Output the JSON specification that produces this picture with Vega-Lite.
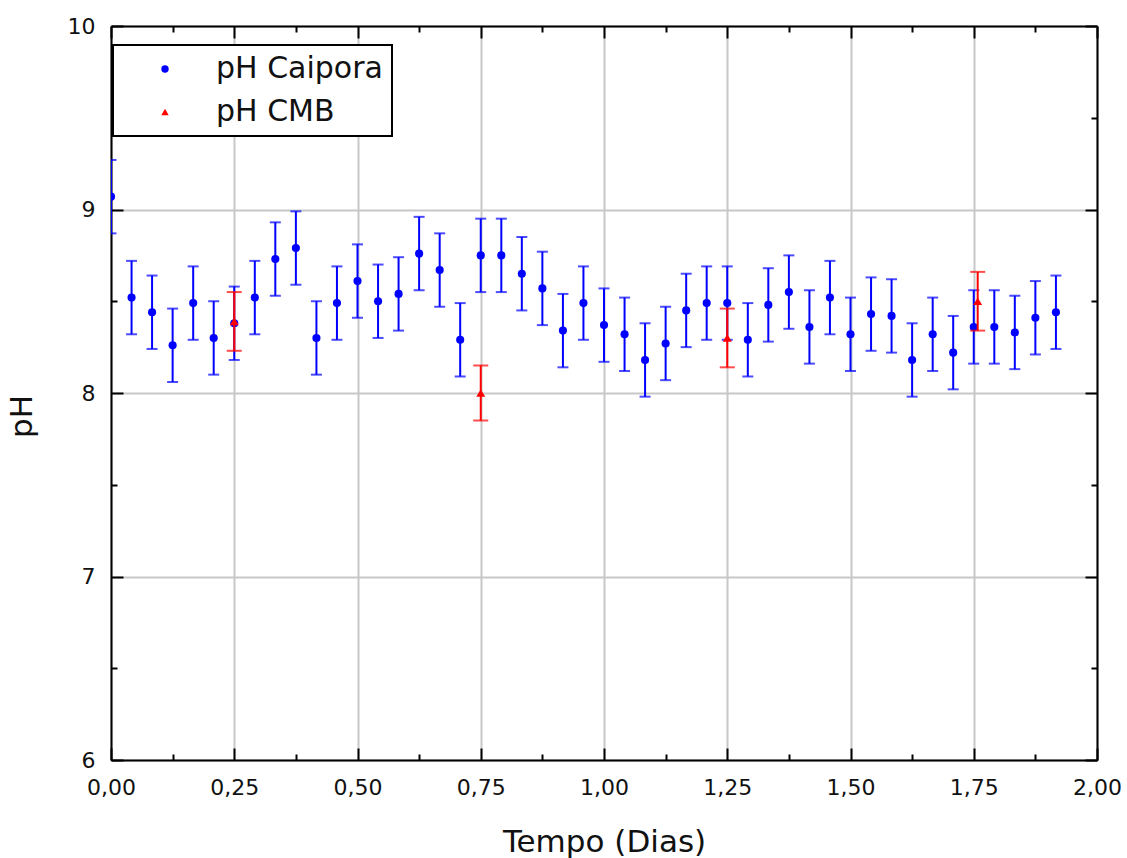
{
  "$schema": "https://vega.github.io/schema/vega-lite/v6.json",
  "width": 986,
  "height": 734,
  "autosize": {"type": "none"},
  "padding": {"left": 111, "top": 26, "right": 30, "bottom": 98},
  "background": "white",
  "config": {
    "view": {"stroke": null},
    "font": "DejaVu Sans",
    "legend": {
      "orient": "none",
      "legendX": 2,
      "legendY": 19,
      "title": null,
      "strokeColor": "black",
      "strokeWidth": 2,
      "fillColor": "white",
      "padding": 9,
      "rowPadding": 13,
      "symbolOffset": 28,
      "labelOffset": 36,
      "labelFont": "DejaVu Sans",
      "labelFontSize": 30,
      "labelColor": "#111111",
      "labelLimit": 500,
      "symbolSize": 55,
      "symbolStrokeWidth": 0
    }
  },
  "datasets": {
    "caipora": [
      {"t": 0, "ph": 9.07, "err": 0.2, "serie": "pH Caipora"},
      {"t": 0.0417, "ph": 8.52, "err": 0.2, "serie": "pH Caipora"},
      {"t": 0.0833, "ph": 8.44, "err": 0.2, "serie": "pH Caipora"},
      {"t": 0.125, "ph": 8.26, "err": 0.2, "serie": "pH Caipora"},
      {"t": 0.1667, "ph": 8.49, "err": 0.2, "serie": "pH Caipora"},
      {"t": 0.2083, "ph": 8.30, "err": 0.2, "serie": "pH Caipora"},
      {"t": 0.25, "ph": 8.38, "err": 0.2, "serie": "pH Caipora"},
      {"t": 0.2917, "ph": 8.52, "err": 0.2, "serie": "pH Caipora"},
      {"t": 0.3333, "ph": 8.73, "err": 0.2, "serie": "pH Caipora"},
      {"t": 0.375, "ph": 8.79, "err": 0.2, "serie": "pH Caipora"},
      {"t": 0.4167, "ph": 8.30, "err": 0.2, "serie": "pH Caipora"},
      {"t": 0.4583, "ph": 8.49, "err": 0.2, "serie": "pH Caipora"},
      {"t": 0.5, "ph": 8.61, "err": 0.2, "serie": "pH Caipora"},
      {"t": 0.5417, "ph": 8.50, "err": 0.2, "serie": "pH Caipora"},
      {"t": 0.5833, "ph": 8.54, "err": 0.2, "serie": "pH Caipora"},
      {"t": 0.625, "ph": 8.76, "err": 0.2, "serie": "pH Caipora"},
      {"t": 0.6667, "ph": 8.67, "err": 0.2, "serie": "pH Caipora"},
      {"t": 0.7083, "ph": 8.29, "err": 0.2, "serie": "pH Caipora"},
      {"t": 0.75, "ph": 8.75, "err": 0.2, "serie": "pH Caipora"},
      {"t": 0.7917, "ph": 8.75, "err": 0.2, "serie": "pH Caipora"},
      {"t": 0.8333, "ph": 8.65, "err": 0.2, "serie": "pH Caipora"},
      {"t": 0.875, "ph": 8.57, "err": 0.2, "serie": "pH Caipora"},
      {"t": 0.9167, "ph": 8.34, "err": 0.2, "serie": "pH Caipora"},
      {"t": 0.9583, "ph": 8.49, "err": 0.2, "serie": "pH Caipora"},
      {"t": 1.0, "ph": 8.37, "err": 0.2, "serie": "pH Caipora"},
      {"t": 1.0417, "ph": 8.32, "err": 0.2, "serie": "pH Caipora"},
      {"t": 1.0833, "ph": 8.18, "err": 0.2, "serie": "pH Caipora"},
      {"t": 1.125, "ph": 8.27, "err": 0.2, "serie": "pH Caipora"},
      {"t": 1.1667, "ph": 8.45, "err": 0.2, "serie": "pH Caipora"},
      {"t": 1.2083, "ph": 8.49, "err": 0.2, "serie": "pH Caipora"},
      {"t": 1.25, "ph": 8.49, "err": 0.2, "serie": "pH Caipora"},
      {"t": 1.2917, "ph": 8.29, "err": 0.2, "serie": "pH Caipora"},
      {"t": 1.3333, "ph": 8.48, "err": 0.2, "serie": "pH Caipora"},
      {"t": 1.375, "ph": 8.55, "err": 0.2, "serie": "pH Caipora"},
      {"t": 1.4167, "ph": 8.36, "err": 0.2, "serie": "pH Caipora"},
      {"t": 1.4583, "ph": 8.52, "err": 0.2, "serie": "pH Caipora"},
      {"t": 1.5, "ph": 8.32, "err": 0.2, "serie": "pH Caipora"},
      {"t": 1.5417, "ph": 8.43, "err": 0.2, "serie": "pH Caipora"},
      {"t": 1.5833, "ph": 8.42, "err": 0.2, "serie": "pH Caipora"},
      {"t": 1.625, "ph": 8.18, "err": 0.2, "serie": "pH Caipora"},
      {"t": 1.6667, "ph": 8.32, "err": 0.2, "serie": "pH Caipora"},
      {"t": 1.7083, "ph": 8.22, "err": 0.2, "serie": "pH Caipora"},
      {"t": 1.75, "ph": 8.36, "err": 0.2, "serie": "pH Caipora"},
      {"t": 1.7917, "ph": 8.36, "err": 0.2, "serie": "pH Caipora"},
      {"t": 1.8333, "ph": 8.33, "err": 0.2, "serie": "pH Caipora"},
      {"t": 1.875, "ph": 8.41, "err": 0.2, "serie": "pH Caipora"},
      {"t": 1.9167, "ph": 8.44, "err": 0.2, "serie": "pH Caipora"}
    ],
    "cmb": [
      {"t": 0.25, "ph": 8.39, "err": 0.16, "serie": "pH CMB"},
      {"t": 0.75, "ph": 8.00, "err": 0.15, "serie": "pH CMB"},
      {"t": 1.25, "ph": 8.30, "err": 0.16, "serie": "pH CMB"},
      {"t": 1.758, "ph": 8.50, "err": 0.16, "serie": "pH CMB"}
    ]
  },
  "resolve": {"axis": {"x": "independent", "y": "independent"}},
  "layer": [
    {
      "data": {"name": "caipora"},
      "mark": {"type": "errorbar", "color": "#0000ff", "clip": true, "ticks": {"size": 11, "thickness": 2}, "rule": {"strokeWidth": 2}},
      "encoding": {
        "x": {
          "field": "t", "type": "quantitative",
          "scale": {"domain": [0, 2], "nice": false, "zero": false},
          "axis": {
            "orient": "bottom",
            "values": [0, 0.125, 0.25, 0.375, 0.5, 0.625, 0.75, 0.875, 1, 1.125, 1.25, 1.375, 1.5, 1.625, 1.75, 1.875, 2],
            "labelExpr": "(datum.value * 4) % 1 === 0 ? replace(format(datum.value, '.2f'), '.', ',') : ''",
            "labelFont": "DejaVu Sans", "labelFontSize": 22, "labelColor": "#111111", "labelPadding": 29,
            "labelBaseline": "top", "labelFlush": false, "labelOverlap": false,
            "title": "Tempo (Dias)", "titleFont": "DejaVu Sans", "titleFontSize": 31, "titleFontWeight": "normal", "titleColor": "#111111",
            "titleBaseline": "alphabetic", "titleY": 91,
            "domainColor": "black", "domainWidth": 2,
            "tickColor": "black", "tickWidth": 2,
            "tickSize": {"condition": {"test": "(datum.value * 4) % 1 !== 0", "value": -6}, "value": -12},
            "grid": true, "gridColor": "#c8c8c8", "gridWidth": 2,
            "gridOpacity": {"condition": {"test": "(datum.value * 4) % 1 !== 0", "value": 0}, "value": 1}
          }
        },
        "y": {
          "field": "ph", "type": "quantitative",
          "scale": {"domain": [6, 10], "nice": false, "zero": false},
          "axis": {
            "orient": "left",
            "values": [6, 6.5, 7, 7.5, 8, 8.5, 9, 9.5, 10],
            "labelExpr": "datum.value % 1 === 0 ? format(datum.value, 'd') : ''",
            "labelFont": "DejaVu Sans", "labelFontSize": 22, "labelColor": "#111111", "labelPadding": 28,
            "labelFlush": false, "labelOverlap": false,
            "title": "pH", "titleFont": "DejaVu Sans", "titleFontSize": 31, "titleFontWeight": "normal", "titleColor": "#111111",
            "titleBaseline": "alphabetic", "titleAngle": -90, "titleX": -80, "titleY": 390, "titleAlign": "center",
            "domainColor": "black", "domainWidth": 2,
            "tickColor": "black", "tickWidth": 2,
            "tickSize": {"condition": {"test": "datum.value % 1 !== 0", "value": -6}, "value": -12},
            "grid": true, "gridColor": "#c8c8c8", "gridWidth": 2,
            "gridOpacity": {"condition": {"test": "datum.value % 1 !== 0", "value": 0}, "value": 1}
          }
        },
        "yError": {"field": "err"}
      }
    },
    {
      "data": {"name": "caipora"},
      "mark": {"type": "point", "filled": true, "opacity": 1, "size": 66, "clip": true},
      "encoding": {
        "x": {
          "field": "t", "type": "quantitative",
          "scale": {"domain": [0, 2], "nice": false, "zero": false},
          "axis": {
            "orient": "top",
            "values": [0, 0.125, 0.25, 0.375, 0.5, 0.625, 0.75, 0.875, 1, 1.125, 1.25, 1.375, 1.5, 1.625, 1.75, 1.875, 2],
            "labels": false, "title": null, "grid": false,
            "domainColor": "black", "domainWidth": 2,
            "tickColor": "black", "tickWidth": 2,
            "tickSize": {"condition": {"test": "(datum.value * 4) % 1 !== 0", "value": -6}, "value": -12}
          }
        },
        "y": {
          "field": "ph", "type": "quantitative",
          "scale": {"domain": [6, 10], "nice": false, "zero": false},
          "axis": {
            "orient": "right",
            "values": [6, 6.5, 7, 7.5, 8, 8.5, 9, 9.5, 10],
            "labels": false, "title": null, "grid": false,
            "domainColor": "black", "domainWidth": 2,
            "tickColor": "black", "tickWidth": 2,
            "tickSize": {"condition": {"test": "datum.value % 1 !== 0", "value": -6}, "value": -12}
          }
        },
        "color": {
          "field": "serie", "type": "nominal",
          "scale": {"domain": ["pH Caipora", "pH CMB"], "range": ["#0000ff", "#ff0000"]}
        },
        "shape": {
          "field": "serie", "type": "nominal",
          "scale": {"domain": ["pH Caipora", "pH CMB"], "range": ["circle", "triangle-up"]}
        }
      }
    },
    {
      "data": {"name": "cmb"},
      "mark": {"type": "errorbar", "color": "#ff0000", "clip": true, "ticks": {"size": 15, "thickness": 2}, "rule": {"strokeWidth": 2}},
      "encoding": {
        "x": {"field": "t", "type": "quantitative", "scale": {"domain": [0, 2], "nice": false, "zero": false}, "axis": null},
        "y": {"field": "ph", "type": "quantitative", "scale": {"domain": [6, 10], "nice": false, "zero": false}, "axis": null},
        "yError": {"field": "err"}
      }
    },
    {
      "data": {"name": "cmb"},
      "mark": {"type": "point", "filled": true, "opacity": 1, "size": 80, "clip": true},
      "encoding": {
        "x": {"field": "t", "type": "quantitative", "scale": {"domain": [0, 2], "nice": false, "zero": false}, "axis": null},
        "y": {"field": "ph", "type": "quantitative", "scale": {"domain": [6, 10], "nice": false, "zero": false}, "axis": null},
        "color": {
          "field": "serie", "type": "nominal",
          "scale": {"domain": ["pH Caipora", "pH CMB"], "range": ["#0000ff", "#ff0000"]}
        },
        "shape": {
          "field": "serie", "type": "nominal",
          "scale": {"domain": ["pH Caipora", "pH CMB"], "range": ["circle", "triangle-up"]}
        }
      }
    }
  ]
}
